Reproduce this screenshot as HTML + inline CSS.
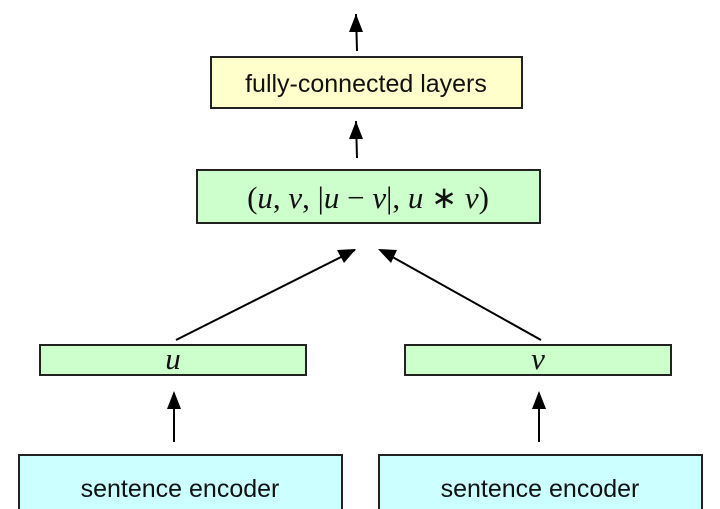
<!DOCTYPE html>
<html><head><meta charset="utf-8"><style>
html,body{margin:0;padding:0;background:#fff;width:720px;height:509px;overflow:hidden}
</style></head><body>
<svg width="720" height="509" viewBox="0 0 720 509" xmlns="http://www.w3.org/2000/svg">
<defs><marker id="a" markerWidth="10" markerHeight="10" refX="9" refY="5" orient="auto" markerUnits="userSpaceOnUse"><path d="M0,0 L10,5 L0,10 z" fill="#000" transform="scale(1.4,1) translate(-3,0)"/></marker></defs>
<g stroke="#000" stroke-width="2" fill="none">
<line x1="357" y1="51" x2="356" y2="14"/>
<line x1="357" y1="158" x2="356" y2="121"/>
<line x1="174" y1="442" x2="174" y2="393"/>
<line x1="539" y1="442" x2="539" y2="393"/>
<line x1="176" y1="340" x2="355" y2="250"/>
<line x1="541" y1="340" x2="380" y2="250"/>
</g>
<g fill="#000">
<polygon points="356,14 349,32 363,32"/>
<polygon points="356,121 349,139 363,139"/>
<polygon points="174,391 167,409 181,409"/>
<polygon points="539,391 532,409 546,409"/>
<polygon points="356,249 337,250 344,263"/>
<polygon points="378,249 391,263 397,250"/>
</g>
<g stroke="#222" stroke-width="2">
<rect x="211" y="57" width="311" height="51" fill="#ffffcc"/>
<rect x="197" y="170" width="343" height="53" fill="#ccffcc"/>
<rect x="40" y="345" width="266" height="30" fill="#ccffcc"/>
<rect x="405" y="345" width="266" height="30" fill="#ccffcc"/>
<rect x="19" y="455" width="323" height="60" fill="#ccffff"/>
<rect x="379" y="455" width="323" height="60" fill="#ccffff"/>
</g>
<g font-family="Liberation Sans, sans-serif" font-size="25" text-anchor="middle" fill="#111">
<text x="366" y="92">fully-connected layers</text>
<text x="180" y="497">sentence encoder</text>
<text x="540" y="497">sentence encoder</text>
</g>
<g font-family="Liberation Serif, serif" font-size="31" text-anchor="middle" fill="#111">
<text x="368" y="208"><tspan font-style="normal">(</tspan><tspan font-style="italic">u</tspan>, <tspan font-style="italic">v</tspan>, |<tspan font-style="italic">u</tspan> − <tspan font-style="italic">v</tspan>|, <tspan font-style="italic">u</tspan> ∗ <tspan font-style="italic">v</tspan>)</text>
<text x="173" y="369" font-style="italic">u</text>
<text x="538" y="369" font-style="italic">v</text>
</g>
</svg>
</body></html>
